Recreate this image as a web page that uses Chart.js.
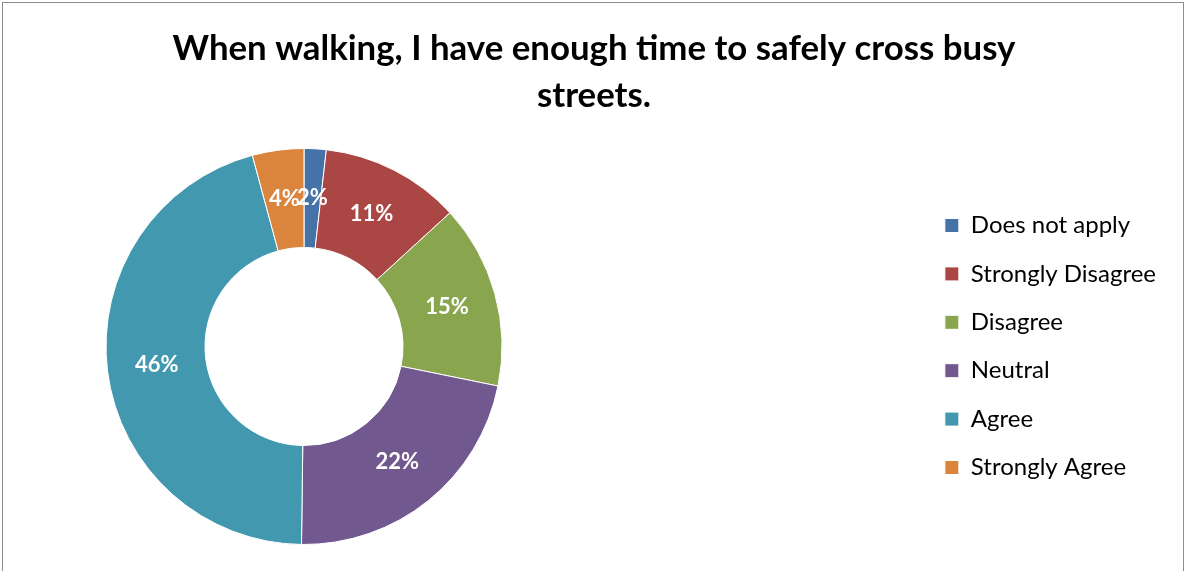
<!DOCTYPE html>
<html lang="en">
<head>
<meta charset="UTF-8">
<title>Crossing time survey</title>
<style>
  body { margin: 0; background: #fff; }
  #frame { position: absolute; left: 2px; top: 2px; width: 1182px; height: 600px; border: 1px solid #8e8e8e; box-sizing: border-box; }
  #wrap { position: absolute; left: 0; top: 0; width: 1188px; height: 571px; }
</style>
</head>
<body>
<div id="frame"></div>
<div id="wrap"><canvas id="myChart" width="1188" height="571"></canvas></div>

<script src="https://cdn.jsdelivr.net/npm/chart.js"></script>
<script>
const titleLines = ['When walking, I have enough time to safely cross busy', 'streets.'];
const categories = ['Does not apply', 'Strongly Disagree', 'Disagree', 'Neutral', 'Agree', 'Strongly Agree'];
const percentValues = [1.8, 11.4, 15.0, 22.0, 45.6, 4.2];
const sliceColors = ['#4572A7', '#AA4643', '#89A54E', '#71588F', '#4198AF', '#DB843D'];

const FONT = 'Lato, Carlito, "Open Sans", sans-serif';

// move the doughnut to the left part of the canvas, like the excel original
const pieArea = {
  id: 'pieArea',
  afterLayout(chart, args, opts) {
    const a = chart.chartArea;
    a.right = a.left + 2 * (opts.centerX - a.left);
    a.width = a.right - a.left;
  }
};

// percent labels in the middle of each ring segment
const sliceLabels = {
  id: 'sliceLabels',
  afterDatasetsDraw(chart) {
    const ctx = chart.ctx;
    const meta = chart.getDatasetMeta(0);
    ctx.save();
    ctx.font = 'bold 22px ' + FONT;
    ctx.fillStyle = '#fff';
    ctx.textAlign = 'center';
    ctx.textBaseline = 'middle';
    meta.data.forEach(function(arc, i) {
      const p = arc.getCenterPoint();
      ctx.fillText(Math.round(percentValues[i]) + '%', p.x, p.y);
    });
    ctx.restore();
  }
};

const ctx = document.getElementById('myChart').getContext('2d');
new Chart(ctx, {
  type: 'doughnut',
  data: {
    labels: categories,
    datasets: [{
      data: percentValues,
      backgroundColor: sliceColors,
      borderColor: '#ffffff',
      borderWidth: 1
    }]
  },
  options: {
    responsive: false,
    animation: false,
    cutout: '50%',
    layout: { padding: { bottom: 26, left: 22, right: 22 } },
    plugins: {
      pieArea: { centerX: 304 },
      tooltip: { enabled: false },
      title: {
        display: true,
        text: titleLines,
        color: '#000',
        font: { family: FONT, size: 34.8, weight: 'bold', lineHeight: 47 / 34.8 },
        padding: { top: 25, bottom: 29 }
      },
      legend: {
        position: 'right',
        fullSize: false,
        labels: {
          color: '#000',
          font: { family: FONT, size: 24 },
          boxWidth: 14,
          boxHeight: 14,
          padding: 24.4
        }
      }
    }
  },
  plugins: [pieArea, sliceLabels]
});
</script>
</body>
</html>
